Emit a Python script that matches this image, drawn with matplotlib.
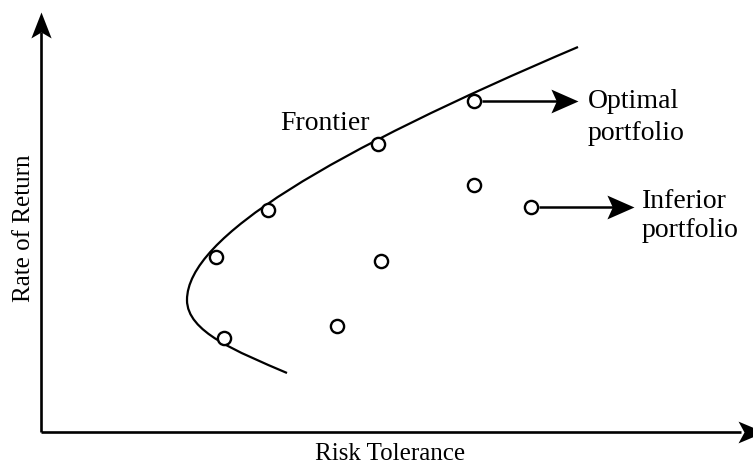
import matplotlib.pyplot as plt
from matplotlib.path import Path
from matplotlib.patches import PathPatch

# portfolio positions (risk, return) in arbitrary units
risk = [17.5, 18.3, 22.7, 29.6, 33.7, 34.0, 43.3, 43.3, 49.0]
ret = [17.5, 9.4, 22.2, 10.6, 28.8, 17.1, 33.1, 24.7, 22.5]

# efficient frontier drawn as two cubic bezier segments
frontier_pts = [(24.6, 5.9), (19.6, 8.05), (14.6, 10.0), (14.6, 13.2),
                (14.6, 19.5), (29.0, 28.0), (53.7, 38.5)]

optimal = (43.3, 33.1)
inferior = (49.0, 22.5)

plt.rcParams["font.family"] = ["Liberation Serif", "DejaVu Serif"]


def stealth(direction, notch=0.77, half=0.4):
    # arrowhead with a concave back, tip sits on the marker position
    pts = [(0, 0), (-1, half), (-notch, 0), (-1, -half), (0, 0)]
    if direction == "up":
        pts = [(-y, x) for x, y in pts]
    codes = [Path.MOVETO, Path.LINETO, Path.LINETO, Path.LINETO, Path.CLOSEPOLY]
    return Path(pts, codes)


fig = plt.figure(figsize=(7.53, 4.65), dpi=100)
ax = fig.add_axes([0, 0, 1, 1])
ax.set_xlim(-4.1, 71.2)
ax.set_ylim(-3.3, 43.2)
ax.axis("off")

# axes with arrows
ax.plot([0, 0], [0, 40.0], color="black", lw=1.9, solid_capstyle="butt")
ax.plot([0, 70.0], [0, 0], color="black", lw=1.9, solid_capstyle="butt")
ax.plot([0], [42.0], marker=stealth("up", half=0.39), ms=37.4, color="black", mew=0)
ax.plot([72.3], [0], marker=stealth("right", half=0.42), ms=37.4, color="black",
        mew=0, clip_on=False)

codes = [Path.MOVETO] + [Path.CURVE4] * 6
ax.add_patch(PathPatch(Path(frontier_pts, codes), fill=False, lw=1.6, color="black"))

ax.plot(risk, ret, "o", ms=9.5, mfc="white", mec="black", mew=1.7, zorder=3)

# pointer arrows to the labels
for (px, py), tip in [(optimal, 53.7), (inferior, 59.3)]:
    ax.plot([px + 0.8, tip - 1.5], [py, py], color="black", lw=1.8, solid_capstyle="butt")
    ax.plot([tip], [py], marker=stealth("right", notch=0.8, half=0.44), ms=39,
            color="black", mew=0)

fs = 20
ax.text(28.4, 30.2, "Frontier", fontsize=fs, ha="center", va="baseline")
ax.text(54.7, 32.4, "Optimal", fontsize=fs, ha="left", va="baseline")
ax.text(54.7, 29.2, "portfolio", fontsize=fs, ha="left", va="baseline")
ax.text(60.1, 22.4, "Inferior", fontsize=fs, ha="left", va="baseline")
ax.text(60.1, 19.5, "portfolio", fontsize=fs, ha="left", va="baseline")
ax.text(34.9, -2.8, "Risk Tolerance", fontsize=18, ha="center", va="baseline")
ax.text(-1.7, 20.4, "Rate of Return", fontsize=18, ha="center", va="center", rotation=90)

fig.savefig("out.png", dpi=100)
